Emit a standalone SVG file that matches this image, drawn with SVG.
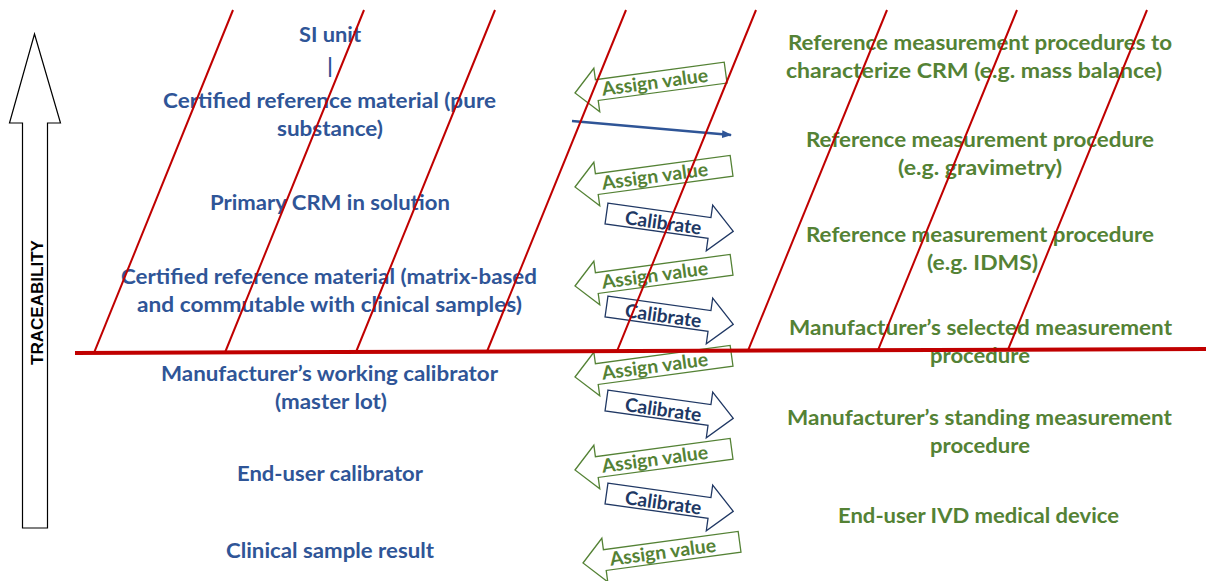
<svg xmlns="http://www.w3.org/2000/svg" width="1206" height="581" viewBox="0 0 1206 581">
  <style>
    .lbl { font-family: Lato, "Liberation Sans", sans-serif; font-weight: bold; font-size: 21px; text-anchor: middle; }
    .std { fill: #2F5597; }
    .proc { fill: #548235; }
    .assign-box { fill: none; stroke: #548235; stroke-width: 1.3; stroke-linejoin: miter; }
    .assign-txt { font-family: Lato, "Liberation Sans", sans-serif; font-weight: bold; font-size: 19px; fill: #548235; }
    .cal-box { fill: none; stroke: #203864; stroke-width: 1.3; stroke-linejoin: miter; }
    .cal-txt { font-family: Lato, "Liberation Sans", sans-serif; font-weight: bold; font-size: 19px; fill: #203864; }
    .bone { stroke: #C00000; stroke-width: 2; fill: none; }
    .spine { stroke: #C00000; stroke-width: 4; fill: none; }
  </style>
  <defs>
    <!-- hollow block arrows: "assign value" points left from its tip, "calibrate" points right -->
    <path id="assignShape" d="M0,0 L22,-22 L22,-10.5 L158,-10.5 L158,10.5 L22,10.5 L22,22 Z"/>
    <path id="assignShapeShort" d="M0,0 L22,-22 L22,-10.5 L152,-10.5 L152,10.5 L22,10.5 L22,22 Z"/>
    <path id="calShape" d="M0,-10.5 L104,-10.5 L104,-23 L128,0 L104,23 L104,10.5 L0,10.5 Z"/>
    <marker id="blueHead" viewBox="0 0 10 10" refX="9" refY="5" markerWidth="4" markerHeight="4" markerUnits="strokeWidth" orient="auto">
      <path d="M0,1 L10,5 L0,9 Z" fill="#2F5597"/>
    </marker>
  </defs>

  <rect width="1206" height="581" fill="#FFFFFF"/>

  <!-- vertical traceability arrow -->
  <g id="traceability">
    <polygon points="22.5,528 47.5,528 47.5,123 60.5,123 34.5,34 9.5,123 22.5,123" fill="#FFFFFF" stroke="#000000" stroke-width="1.2"/>
    <text transform="translate(42.5,302.5) rotate(-90)" x="0" y="0" font-family="'Liberation Sans', Arial, sans-serif" font-weight="bold" font-size="17" text-anchor="middle" fill="#000000" textLength="125" lengthAdjust="spacingAndGlyphs">TRACEABILITY</text>
  </g>

  <!-- calibrator / material hierarchy -->
  <g id="si-unit">
    <text class="lbl std" x="330" y="42" textLength="62" lengthAdjust="spacingAndGlyphs">SI unit</text>
    <text class="lbl std" x="330" y="73" font-size="16">|</text>
  </g>
  <g id="crm-pure">
    <text class="lbl std" x="329.5" y="108" textLength="333" lengthAdjust="spacingAndGlyphs">Certified reference material (pure</text>
    <text class="lbl std" x="330" y="136" textLength="106" lengthAdjust="spacingAndGlyphs">substance)</text>
  </g>
  <g id="primary-crm">
    <text class="lbl std" x="330" y="210" textLength="240" lengthAdjust="spacingAndGlyphs">Primary CRM in solution</text>
  </g>
  <g id="crm-matrix">
    <text class="lbl std" x="329" y="284" textLength="416" lengthAdjust="spacingAndGlyphs">Certified reference material (matrix-based</text>
    <text class="lbl std" x="329.5" y="312" textLength="385" lengthAdjust="spacingAndGlyphs">and commutable with clinical samples)</text>
  </g>
  <g id="working-calibrator">
    <text class="lbl std" x="329.5" y="381" textLength="337" lengthAdjust="spacingAndGlyphs">Manufacturer’s working calibrator</text>
    <text class="lbl std" x="331" y="409" textLength="112" lengthAdjust="spacingAndGlyphs">(master lot)</text>
  </g>
  <g id="end-user-calibrator">
    <text class="lbl std" x="330" y="481" textLength="186" lengthAdjust="spacingAndGlyphs">End-user calibrator</text>
  </g>
  <g id="clinical-result">
    <text class="lbl std" x="330" y="558" textLength="208" lengthAdjust="spacingAndGlyphs">Clinical sample result</text>
  </g>

  <!-- measurement procedure hierarchy -->
  <g id="ref-proc-crm">
    <text class="lbl proc" x="980" y="50" textLength="384" lengthAdjust="spacingAndGlyphs">Reference measurement procedures to</text>
    <text class="lbl proc" x="974" y="78" textLength="376" lengthAdjust="spacingAndGlyphs">characterize CRM (e.g. mass balance)</text>
  </g>
  <g id="ref-proc-gravimetry">
    <text class="lbl proc" x="980" y="147" textLength="348" lengthAdjust="spacingAndGlyphs">Reference measurement procedure</text>
    <text class="lbl proc" x="980" y="175" textLength="164" lengthAdjust="spacingAndGlyphs">(e.g. gravimetry)</text>
  </g>
  <g id="ref-proc-idms">
    <text class="lbl proc" x="980" y="242" textLength="348" lengthAdjust="spacingAndGlyphs">Reference measurement procedure</text>
    <text class="lbl proc" x="982.5" y="270" textLength="111" lengthAdjust="spacingAndGlyphs">(e.g. IDMS)</text>
  </g>
  <g id="selected-proc">
    <text class="lbl proc" x="980.5" y="335" textLength="383" lengthAdjust="spacingAndGlyphs">Manufacturer’s selected measurement</text>
    <text class="lbl proc" x="980" y="363" textLength="100" lengthAdjust="spacingAndGlyphs">procedure</text>
  </g>
  <g id="standing-proc">
    <text class="lbl proc" x="979.5" y="425" textLength="385" lengthAdjust="spacingAndGlyphs">Manufacturer’s standing measurement</text>
    <text class="lbl proc" x="980" y="453" textLength="100" lengthAdjust="spacingAndGlyphs">procedure</text>
  </g>
  <g id="ivd-device">
    <text class="lbl proc" x="978.5" y="523" textLength="281" lengthAdjust="spacingAndGlyphs">End-user IVD medical device</text>
  </g>

  <!-- assign value / calibrate connectors -->
  <g id="connectors">
    <g transform="translate(575,93) rotate(-7.7)">
      <use href="#assignShapeShort" class="assign-box"/>
      <text class="assign-txt" x="27" y="6.5" textLength="107" lengthAdjust="spacingAndGlyphs">Assign value</text>
    </g>
    <path d="M572,121 L731,135" stroke="#2F5597" stroke-width="2.5" fill="none" marker-end="url(#blueHead)"/>
    <g transform="translate(575,187) rotate(-7.7)">
      <use href="#assignShape" class="assign-box"/>
      <text class="assign-txt" x="27" y="6.5" textLength="107" lengthAdjust="spacingAndGlyphs">Assign value</text>
    </g>
    <g transform="translate(606.5,213.5) rotate(8)">
      <use href="#calShape" class="cal-box"/>
      <text class="cal-txt" x="19" y="8" textLength="77" lengthAdjust="spacingAndGlyphs">Calibrate</text>
    </g>
    <g transform="translate(575,286) rotate(-7.7)">
      <use href="#assignShape" class="assign-box"/>
      <text class="assign-txt" x="27" y="6.5" textLength="107" lengthAdjust="spacingAndGlyphs">Assign value</text>
    </g>
    <g transform="translate(606.5,306.5) rotate(8)">
      <use href="#calShape" class="cal-box"/>
      <text class="cal-txt" x="19" y="8" textLength="77" lengthAdjust="spacingAndGlyphs">Calibrate</text>
    </g>
    <g transform="translate(575,377) rotate(-7.7)">
      <use href="#assignShape" class="assign-box"/>
      <text class="assign-txt" x="27" y="6.5" textLength="107" lengthAdjust="spacingAndGlyphs">Assign value</text>
    </g>
    <g transform="translate(606.5,400.5) rotate(8)">
      <use href="#calShape" class="cal-box"/>
      <text class="cal-txt" x="19" y="8" textLength="77" lengthAdjust="spacingAndGlyphs">Calibrate</text>
    </g>
    <g transform="translate(575,470) rotate(-7.7)">
      <use href="#assignShape" class="assign-box"/>
      <text class="assign-txt" x="27" y="6.5" textLength="107" lengthAdjust="spacingAndGlyphs">Assign value</text>
    </g>
    <g transform="translate(606.5,493.5) rotate(8)">
      <use href="#calShape" class="cal-box"/>
      <text class="cal-txt" x="19" y="8" textLength="77" lengthAdjust="spacingAndGlyphs">Calibrate</text>
    </g>
    <g transform="translate(583,563) rotate(-7.7)">
      <use href="#assignShape" class="assign-box"/>
      <text class="assign-txt" x="27" y="6.5" textLength="107" lengthAdjust="spacingAndGlyphs">Assign value</text>
    </g>
  </g>

  <!-- red fishbone: slanted ribs meeting the horizontal spine -->
  <g id="fishbone">
    <line class="bone" x1="94" y1="352.9" x2="233" y2="10"/>
    <line class="bone" x1="225" y1="352.5" x2="364" y2="10"/>
    <line class="bone" x1="356" y1="352" x2="495" y2="10"/>
    <line class="bone" x1="487" y1="351.5" x2="626" y2="10"/>
    <line class="bone" x1="617" y1="351.1" x2="756" y2="10"/>
    <line class="bone" x1="748" y1="350.6" x2="887" y2="10"/>
    <line class="bone" x1="878" y1="350.2" x2="1017" y2="10"/>
    <line class="bone" x1="1008" y1="349.7" x2="1147" y2="10"/>
    <line class="spine" x1="75" y1="353" x2="1206" y2="349"/>
  </g>
</svg>
